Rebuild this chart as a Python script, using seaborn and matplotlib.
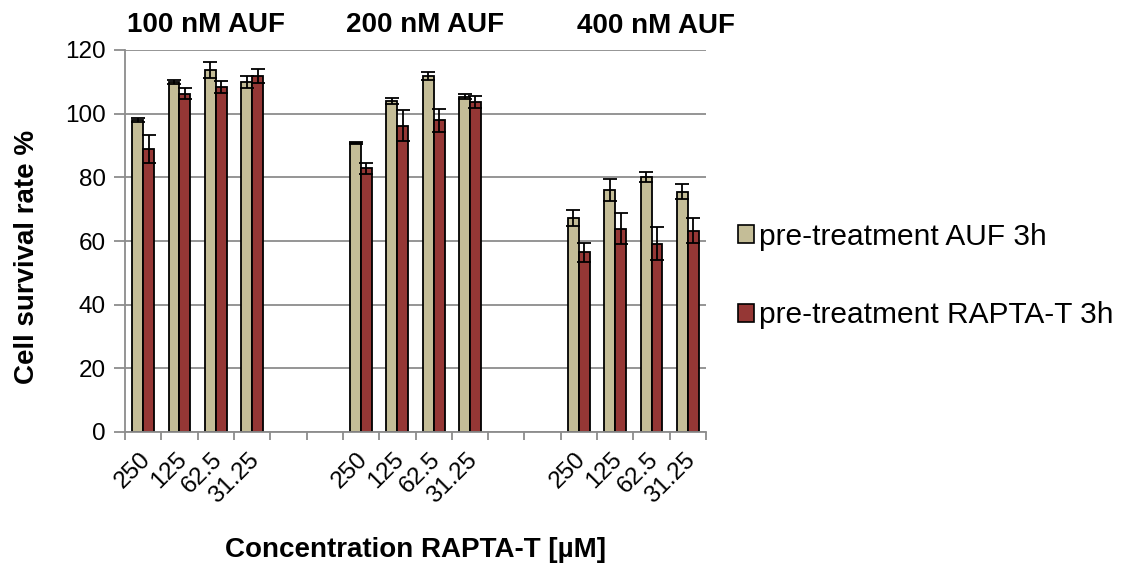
import matplotlib
matplotlib.use("Agg")
import matplotlib.pyplot as plt
import matplotlib.transforms as mtransforms
import seaborn as sns
import pandas as pd
import numpy as np
from matplotlib.patches import Patch

sns.set_style("white")
plt.rcParams['font.family'] = ['Liberation Sans', 'DejaVu Sans']
plt.rcParams['text.color'] = 'black'
plt.rcParams['axes.labelcolor'] = 'black'
plt.rcParams['xtick.color'] = 'black'
plt.rcParams['ytick.color'] = 'black'

concentrations = ["250", "125", "62.5", "31.25"]
group_titles = ["100 nM AUF", "200 nM AUF", "400 nM AUF"]
series_names = ["pre-treatment AUF 3h", "pre-treatment RAPTA-T 3h"]

auf_values = [98.0, 110.0, 113.7, 110.0,
              90.8, 103.9, 111.9, 105.3,
              67.3, 76.0, 80.2, 75.5]
auf_errors = [0.6, 0.6, 2.5, 1.8,
              0.2, 0.9, 1.2, 0.8,
              2.5, 3.5, 1.6, 2.4]
rapta_values = [88.9, 106.3, 108.4, 111.8,
                82.8, 96.2, 97.9, 103.7,
                56.4, 63.9, 59.2, 63.2]
rapta_errors = [4.4, 1.7, 2.0, 2.2,
                1.6, 4.8, 3.7, 1.9,
                3.0, 4.9, 5.1, 3.9]

colors = ["#C4BD97", "#953735"]

# category order including empty gap slots between groups
order = []
labels = []
for gi, g in enumerate(group_titles):
    for c in concentrations:
        order.append(f"{g}|{c}")
        labels.append(c)
    if gi < len(group_titles) - 1:
        for k in range(2):
            order.append(f"gap{gi}_{k}")
            labels.append("")

rows = []
for gi, g in enumerate(group_titles):
    for ci, c in enumerate(concentrations):
        idx = gi * 4 + ci
        rows.append({"cat": f"{g}|{c}", "series": series_names[0],
                     "value": auf_values[idx], "err": auf_errors[idx]})
        rows.append({"cat": f"{g}|{c}", "series": series_names[1],
                     "value": rapta_values[idx], "err": rapta_errors[idx]})
df = pd.DataFrame(rows)

W, H = 1124, 569
fig = plt.figure(figsize=(W / 100, H / 100), dpi=100)
ax = fig.add_axes([125/W, 1 - 432/H, (706-125)/W, (432-50)/H])

sns.barplot(data=df, x="cat", y="value", hue="series", order=order,
            hue_order=series_names, palette=colors, width=0.6,
            errorbar=None, edgecolor="black", linewidth=1.3,
            saturation=1, legend=False, ax=ax)

# error bars from the drawn bars
for container, ser in zip(ax.containers, series_names):
    sub = df[df["series"] == ser].set_index("cat")
    xs, ys, es = [], [], []
    for bar, cat in zip(container, [o for o in order if o in sub.index]):
        xs.append(bar.get_x() + bar.get_width() / 2)
        ys.append(bar.get_height())
        es.append(sub.loc[cat, "err"])
    ax.errorbar(xs, ys, yerr=es, fmt="none", ecolor="black",
                elinewidth=1.3, capsize=5, capthick=1.3, zorder=5)

ax.set_ylim(0, 120)
ax.set_xlim(-0.5, len(order) - 0.5)
ax.set_yticks(np.arange(0, 121, 20))
ax.yaxis.grid(True, color="#8c8c8c", linewidth=1.3)
ax.set_axisbelow(True)
for s in ["top", "right"]:
    ax.spines[s].set_visible(False)
for s in ["left", "bottom"]:
    ax.spines[s].set_color("#8c8c8c")
    ax.spines[s].set_linewidth(1.3)

ax.set_xticks(range(len(order)))
ax.set_xticklabels(labels, rotation=45, ha="right", rotation_mode="anchor",
                   fontsize=17.5)
ax.set_xticks(np.arange(-0.5, len(order), 1), minor=True)
ax.tick_params(axis="x", which="major", length=0, pad=12)
ax.tick_params(axis="x", which="minor", length=6, width=1.3, color="#8c8c8c",
               direction="out", bottom=True)
ax.tick_params(axis="y", length=8, width=1.3, color="#8c8c8c", direction="out",
               left=True, labelsize=17.5, pad=6)
offset = mtransforms.ScaledTranslation(-3/72, 0, fig.dpi_scale_trans)
for lbl in ax.get_xticklabels():
    lbl.set_transform(lbl.get_transform() + offset)

ax.set_xlabel("")
ax.set_ylabel("")
fig.text(27/W, 1 - 257/H, "Cell survival rate %", rotation=90, ha="center",
         va="center", fontsize=20, fontweight="bold")
fig.text(416/W, 1 - 557/H, "Concentration RAPTA-T [µM]", ha="center",
         va="baseline", fontsize=20, fontweight="bold")

title_pos = [(206, 32), (425, 32), (656, 33)]
for t, (px, py) in zip(group_titles, title_pos):
    fig.text(px/W, 1 - py/H, t, ha="center", va="baseline",
             fontsize=20, fontweight="bold")

handles = [Patch(facecolor=c, edgecolor="black", linewidth=1.2) for c in colors]
fig.legend(handles, series_names, loc="center left",
           bbox_to_anchor=(738/W, 1 - 276/H), frameon=False,
           fontsize=21.5, labelspacing=1.68, handlelength=0.55,
           handleheight=0.55, handletextpad=0.15, borderpad=0, borderaxespad=0)

fig.savefig("out.png", dpi=100)
